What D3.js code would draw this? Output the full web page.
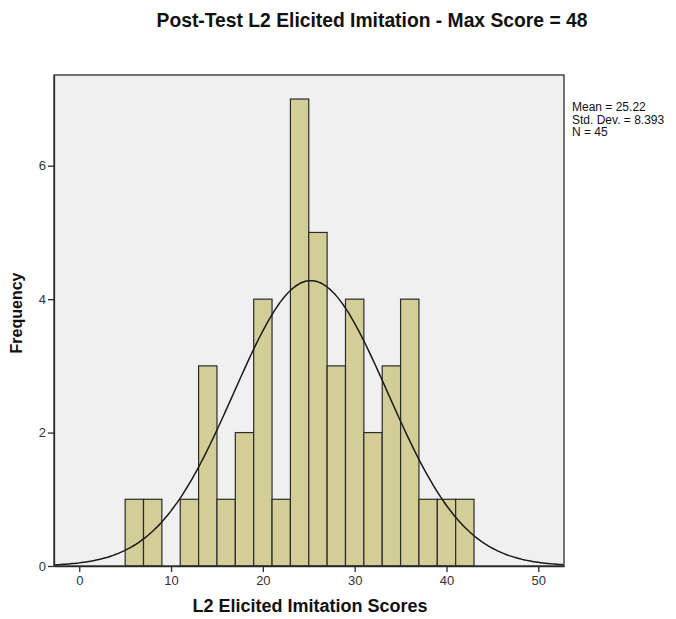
<!DOCTYPE html>
<html>
<head>
<meta charset="utf-8">
<script src="https://cdn.jsdelivr.net/npm/d3@7"></script>
<style>
  body { margin: 0; background: #fff; }
  text { font-family: Arial, "Liberation Sans", sans-serif; }
</style>
</head>
<body>
<div id="chart"></div>
<script>
// histogram bins (width 2) and their frequencies
const binStarts = [5, 7, 9, 11, 13, 15, 17, 19, 21, 23, 25, 27, 29, 31, 33, 35, 37, 39, 41];
const counts    = [1, 1, 0, 1, 3, 1, 2, 4, 1, 7, 5, 3, 4, 2, 3, 4, 1, 1, 1];
const binWidth = 2;
const xTicks = [0, 10, 20, 30, 40, 50];
const yTicks = [0, 2, 4, 6];
const mean = 25.22, sd = 8.393, n = 45;
const statLines = ["Mean = 25.22", "Std. Dev. = 8.393", "N = 45"];

let margin = { top: 75, right: 112, bottom: 53, left: 54 },
    width = 676 - margin.left - margin.right,
    height = 619 - margin.top - margin.bottom;

let svg = d3.select("#chart")
    .append("svg")
    .attr("width", 676)
    .attr("height", 619);

let g = svg.append("g")
    .attr("transform", "translate(" + margin.left + "," + margin.top + ")");

let x = d3.scaleLinear().domain([-2.75, 52.8]).range([0, width]);
let y = d3.scaleLinear().domain([0, 7.36]).range([height, 0]);

// plot background
g.append("rect")
    .attr("width", width)
    .attr("height", height)
    .attr("fill", "#f0f0f0");

// bars
g.selectAll("rect.bar")
    .data(binStarts.map((s, i) => ({ s: s, c: counts[i] })).filter(d => d.c > 0))
    .enter()
    .append("rect")
    .attr("class", "bar")
    .attr("x", d => x(d.s))
    .attr("y", d => y(d.c))
    .attr("width", d => x(d.s + binWidth) - x(d.s))
    .attr("height", d => y(0) - y(d.c))
    .attr("fill", "#d3ce98")
    .attr("stroke", "#2b2b2b")
    .attr("stroke-width", 1.2);

// normal curve
let curvePts = d3.range(-2.75, 52.81, 0.25).map(v => {
    let z = (v - mean) / sd;
    return [v, n * binWidth * Math.exp(-0.5 * z * z) / (sd * Math.sqrt(2 * Math.PI))];
});
g.append("path")
    .datum(curvePts)
    .attr("fill", "none")
    .attr("stroke", "#1a1a1a")
    .attr("stroke-width", 1.5)
    .attr("d", d3.line().x(d => x(d[0])).y(d => y(d[1])).curve(d3.curveBasis));

// frame
g.append("rect")
    .attr("width", width)
    .attr("height", height)
    .attr("fill", "none")
    .attr("stroke", "#2b2b2b")
    .attr("stroke-width", 1.3);

// axes
let xAxis = g.append("g")
    .attr("transform", "translate(0," + height + ")")
    .call(d3.axisBottom(x).tickValues(xTicks).tickSize(6).tickSizeOuter(0).tickPadding(4));
let yAxis = g.append("g")
    .call(d3.axisLeft(y).tickValues(yTicks).tickSize(6).tickSizeOuter(0).tickPadding(2));

[xAxis, yAxis].forEach(a => {
    a.select(".domain").attr("stroke", "#2b2b2b").attr("stroke-width", 1.3);
    a.selectAll(".tick line").attr("stroke", "#2b2b2b").attr("stroke-width", 1.3);
    a.selectAll(".tick text")
        .attr("font-size", "13px")
        .attr("fill", "#333")
        .style("font-family", "Arial, 'Liberation Sans', sans-serif");
});

// stats text
svg.selectAll("text.stat")
    .data(statLines)
    .enter()
    .append("text")
    .attr("class", "stat")
    .attr("x", 572)
    .attr("y", (d, i) => 111 + i * 12.5)
    .attr("font-size", "12px")
    .attr("fill", "#111")
    .text(d => d);

// titles
svg.append("text")
    .attr("x", 372)
    .attr("y", 27)
    .attr("text-anchor", "middle")
    .attr("font-size", "19.3px")
    .attr("font-weight", "bold")
    .attr("fill", "#111")
    .text("Post-Test L2 Elicited Imitation - Max Score = 48");

svg.append("text")
    .attr("x", 310)
    .attr("y", 612)
    .attr("text-anchor", "middle")
    .attr("font-size", "18px")
    .attr("font-weight", "bold")
    .attr("fill", "#111")
    .text("L2 Elicited Imitation Scores");

svg.append("text")
    .attr("transform", "translate(22,313) rotate(-90)")
    .attr("text-anchor", "middle")
    .attr("font-size", "16px")
    .attr("font-weight", "bold")
    .attr("fill", "#111")
    .text("Frequency");
</script>
</body>
</html>
